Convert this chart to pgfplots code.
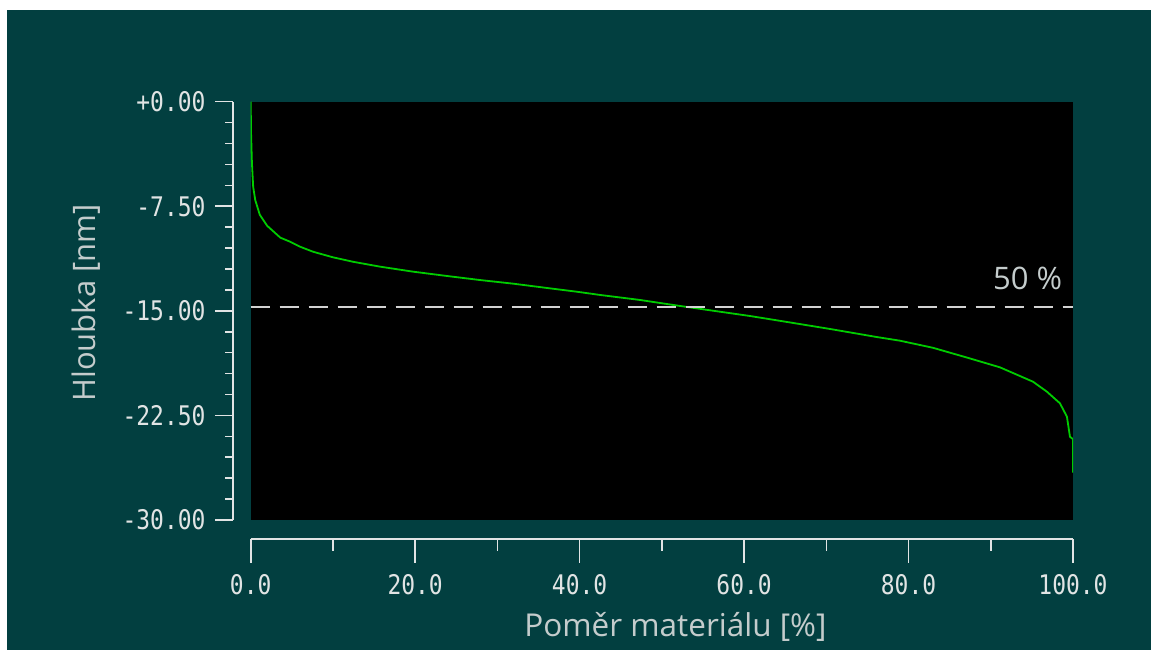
\documentclass[border=0pt]{standalone}
\usepackage{pgfplots}
\pgfplotsset{compat=1.18}
\usepackage{fontspec}
\setmainfont{Open Sans}
\newfontfamily\tickfont[FakeStretch=0.85]{DejaVu Sans Mono}
\definecolor{bgteal}{RGB}{2,63,64}
\definecolor{tickcol}{RGB}{225,228,228}
\definecolor{labcol}{RGB}{196,204,204}
\definecolor{curvecol}{RGB}{0,204,0}
\definecolor{dashcol}{RGB}{210,210,210}
\begin{document}
\begin{tikzpicture}
\useasboundingbox (0,0) rectangle (1151pt,650pt);
\fill[white] (0,0) rectangle (1151pt,650pt);
\fill[bgteal] (7pt,0) rectangle (1151pt,640pt);

\begin{axis}[at={(250.7pt,130pt)}, anchor=south west, scale only axis,
  width=822.3pt, height=418.3pt, xmin=0, xmax=100, ymin=-30, ymax=0,
  axis line style={draw=none}, ticks=none,
  axis background/.style={fill=black}]
\addplot[curvecol, line width=1.8pt] coordinates {
(0,0) (0.04,-2.2) (0.15,-4.4) (0.3,-6.1) (0.55,-7.05) (1.1,-8.1) (1.55,-8.5)
(2.0,-8.9) (3.6,-9.75) (4.78,-10.04) (6.0,-10.4) (7.58,-10.76) (10.0,-11.16)
(12.44,-11.48) (15.72,-11.83) (19.74,-12.19) (23.87,-12.5) (27.88,-12.79)
(31.9,-13.05) (36.03,-13.36) (39.68,-13.63) (42.48,-13.86) (47.34,-14.22)
(52.2,-14.65) (56.22,-14.99) (60.72,-15.37) (65.56,-15.83) (70.45,-16.3)
(76.16,-16.88) (78.95,-17.14) (82.97,-17.65) (87.1,-18.35) (91.11,-19.05)
(95.13,-20.08) (96.83,-20.8) (98.41,-21.63) (99.26,-22.59) (99.63,-24.03)
(100,-24.2) (100,-26.6)};
\addplot[dashcol, line width=2pt, dash pattern=on 19pt off 10pt] coordinates {(0,-14.7) (100,-14.7)};
\node[anchor=base east, text=labcol, font=\fontsize{31pt}{33pt}\selectfont, inner sep=0pt] at (axis cs:98.7,-13.5) {50 \%};
\end{axis}

\begin{axis}[at={(233pt,130pt)}, anchor=south west, scale only axis,
  width=10pt, height=418.3pt, xmin=0, xmax=1, ymin=-30, ymax=0,
  axis x line=none, axis y line=left,
  axis line style={-, tickcol, line width=1.6pt},
  tick style={tickcol, line width=1.6pt}, tick align=outside,
  major tick length=18pt, minor tick length=8pt,
  ytick={-30,-22.5,-15,-7.5,0},
  yticklabels={-30.00,-22.50,-15.00,-7.50,+0.00},
  minor y tick num=4,
  yticklabel style={text=tickcol, xshift=-6pt, font=\tickfont\fontsize{27pt}{29pt}\selectfont}]
\end{axis}

\begin{axis}[at={(250.7pt,111pt)}, anchor=south west, scale only axis,
  width=822.3pt, height=10pt, xmin=0, xmax=100, ymin=0, ymax=1,
  axis y line=none, axis x line=bottom,
  axis line style={-, tickcol, line width=1.6pt},
  tick style={tickcol, line width=1.6pt}, tick align=outside,
  major tick length=24pt, minor tick length=12pt,
  xtick={0,20,40,60,80,100},
  xticklabels={0.0,20.0,40.0,60.0,80.0,100.0},
  minor x tick num=1,
  xticklabel style={text=tickcol, yshift=-8pt, font=\tickfont\fontsize{27pt}{29pt}\selectfont}]
\end{axis}

\node[rotate=90, anchor=base, text=labcol, font=\fontsize{31pt}{33pt}\selectfont, inner sep=0pt] at (95pt,347pt) {Hloubka [nm]};
\node[anchor=base, text=labcol, font=\fontsize{31.5pt}{33pt}\selectfont, inner sep=0pt] at (675.5pt,13.3pt) {Poměr materiálu [\%]};
\end{tikzpicture}
\end{document}
